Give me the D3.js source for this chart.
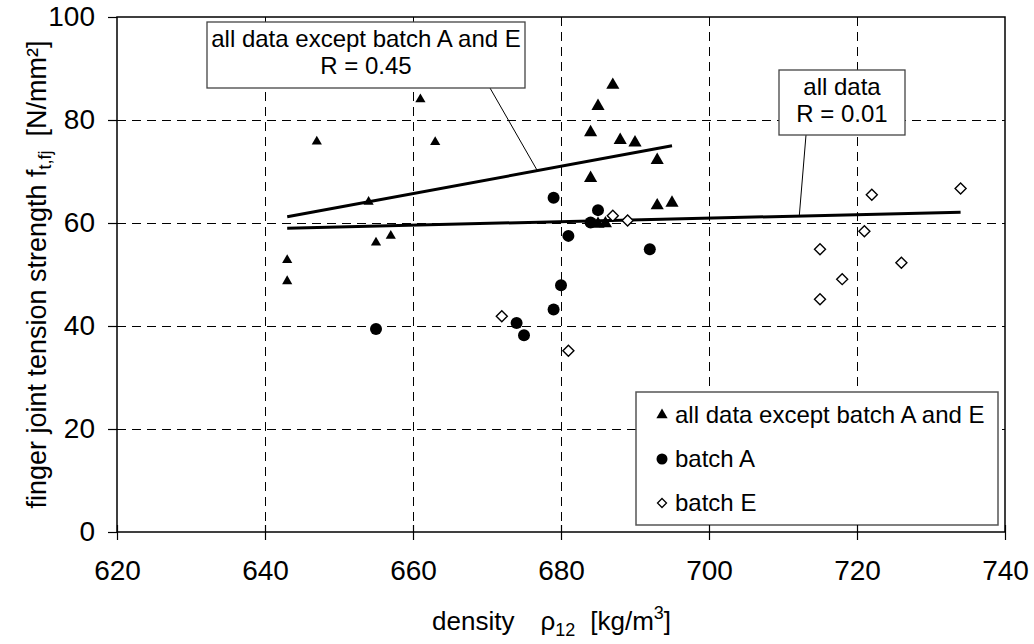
<!DOCTYPE html>
<html>
<head>
<meta charset="utf-8">
<script src="https://cdn.jsdelivr.net/npm/d3@7"></script>
<style>
  body { margin: 0; background: #fff; }
  svg text { font-family: Arial, "Liberation Sans", sans-serif; fill: #000; }
</style>
</head>
<body>
<svg id="chart" width="1034" height="644"></svg>
<script>
// density [kg/m3] vs finger joint tension strength [N/mm2]
// all data except batch A and E (smaller markers, left group)
const othersLow = [
  [643, 52.8], [643, 48.7], [647, 75.8], [654, 64.1], [655, 56.2],
  [657, 57.5], [661, 84.0], [663, 75.7]
];
// all data except batch A and E (larger markers)
const othersHigh = [
  [684, 77.6], [684, 68.7], [685, 82.7], [687, 86.8], [688, 76.1],
  [690, 75.6], [693, 72.2], [693, 63.4], [695, 63.9], [685, 59.8], [686, 59.9]
];
const batchA = [
  [655, 39.4], [674, 40.6], [675, 38.2], [679, 43.2], [680, 47.9],
  [679, 64.9], [681, 57.5], [684, 60.1], [685, 62.5], [692, 54.9]
];
const batchE = [
  [672, 41.9], [681, 35.2], [687, 61.4], [689, 60.5], [715, 54.9],
  [715, 45.2], [718, 49.1], [721, 58.4], [722, 65.5], [726, 52.3], [734, 66.7]
];
// regression lines
const trendExceptAE = [[643, 61.2], [695, 75.0]];
const trendAll = [[643, 59.0], [734, 62.1]];

const xTicks = [620, 640, 660, 680, 700, 720, 740];
const yTicks = [0, 20, 40, 60, 80, 100];

const legendItems = [
  { label: 'all data except batch A and E', shape: 'triangle' },
  { label: 'batch A', shape: 'circle' },
  { label: 'batch E', shape: 'diamond' }
];

const svg = d3.select('#chart');
const plot = { left: 117, right: 1005, top: 17, bottom: 532 };

const x = d3.scaleLinear().domain([620, 740]).range([plot.left, plot.right]);
const y = d3.scaleLinear().domain([0, 100]).range([plot.bottom, plot.top]);

/* ---------- grid ---------- */
const grid = svg.append('g');
grid.selectAll('line.gx')
  .data(xTicks.slice(1, -1))
  .enter().append('line')
  .attr('x1', d => Math.round(x(d)) + 0.5).attr('x2', d => Math.round(x(d)) + 0.5)
  .attr('y1', plot.top).attr('y2', plot.bottom)
  .attr('stroke', '#000').attr('stroke-dasharray', '9,6');
grid.selectAll('line.gy')
  .data(yTicks.slice(1, -1))
  .enter().append('line')
  .attr('x1', plot.left).attr('x2', plot.right)
  .attr('y1', d => Math.round(y(d)) + 0.5).attr('y2', d => Math.round(y(d)) + 0.5)
  .attr('stroke', '#000').attr('stroke-dasharray', '9,6');

/* ---------- regression lines ---------- */
const line = d3.line().x(d => x(d[0])).y(d => y(d[1]));
[trendExceptAE, trendAll].forEach(t => {
  svg.append('path').attr('d', line(t))
    .attr('fill', 'none').attr('stroke', '#000').attr('stroke-width', 3);
});

// value on a trend line at density v
function onTrend(t, v) {
  const [a, b] = t;
  return a[1] + (v - a[0]) * (b[1] - a[1]) / (b[0] - a[0]);
}

/* ---------- annotation boxes ---------- */
function annotation(box, lines, target, trend, from) {
  const tx = target, ty = onTrend(trend, target);
  svg.append('line')
    .attr('x1', from[0]).attr('y1', from[1])
    .attr('x2', x(tx)).attr('y2', y(ty))
    .attr('stroke', '#000').attr('stroke-width', 1);
  svg.append('rect')
    .attr('x', box.x).attr('y', box.y).attr('width', box.w).attr('height', box.h)
    .attr('fill', '#fff').attr('stroke', '#444').attr('stroke-width', 1.3);
  lines.forEach((s, i) => {
    svg.append('text')
      .attr('x', box.x + box.w / 2).attr('y', box.y + 25 + i * 27)
      .attr('text-anchor', 'middle').attr('font-size', 24)
      .text(s);
  });
}
annotation({ x: 207, y: 22, w: 318, h: 66 },
  ['all data except batch A and E', 'R = 0.45'], 676.8, trendExceptAE, [490, 88]);
annotation({ x: 779, y: 70, w: 126, h: 65 },
  ['all data', 'R = 0.01'], 712.2, trendAll, [806, 135]);

/* ---------- markers ---------- */
const tri = d3.symbol().type(d3.symbolTriangle);
svg.append('g').selectAll('path')
  .data(othersLow).enter().append('path')
  .attr('d', tri.size(45)())
  .attr('transform', d => `translate(${x(d[0])},${y(d[1])})`)
  .attr('fill', '#000');
svg.append('g').selectAll('path')
  .data(othersHigh).enter().append('path')
  .attr('d', tri.size(75)())
  .attr('transform', d => `translate(${x(d[0])},${y(d[1])})`)
  .attr('fill', '#000');
svg.append('g').selectAll('circle')
  .data(batchA).enter().append('circle')
  .attr('cx', d => x(d[0])).attr('cy', d => y(d[1])).attr('r', 6)
  .attr('fill', '#000');
svg.append('g').selectAll('path')
  .data(batchE).enter().append('path')
  .attr('d', 'M0,-5.5L5.5,0L0,5.5L-5.5,0Z')
  .attr('transform', d => `translate(${x(d[0])},${y(d[1])})`)
  .attr('fill', '#fff').attr('stroke', '#000').attr('stroke-width', 1.4);

/* ---------- legend ---------- */
const lg = svg.append('g');
lg.append('rect')
  .attr('x', 636).attr('y', 392).attr('width', 362).attr('height', 133)
  .attr('fill', '#fff').attr('stroke', '#555').attr('stroke-width', 1.5);
legendItems.forEach((item, i) => {
  const cy = 415 + i * 44;
  const g = lg.append('g').attr('transform', `translate(662,${cy})`);
  if (item.shape === 'triangle') {
    g.append('path').attr('d', d3.symbol().type(d3.symbolTriangle).size(55)()).attr('fill', '#000');
  } else if (item.shape === 'circle') {
    g.append('circle').attr('r', 5.5).attr('fill', '#000');
  } else {
    g.append('path').attr('d', 'M0,-4.5L4.5,0L0,4.5L-4.5,0Z')
      .attr('fill', '#fff').attr('stroke', '#000').attr('stroke-width', 1.3);
  }
  lg.append('text').attr('x', 675).attr('y', cy + 8)
    .attr('font-size', 24).text(item.label);
});

/* ---------- axes and frame ---------- */
svg.append('rect')
  .attr('x', plot.left).attr('y', plot.top)
  .attr('width', plot.right - plot.left).attr('height', plot.bottom - plot.top)
  .attr('fill', 'none').attr('stroke', '#000').attr('stroke-width', 1.5);

const xAxis = svg.append('g').attr('transform', `translate(0,${plot.bottom})`)
  .call(d3.axisBottom(x).tickValues(xTicks).tickSize(8).tickPadding(20));
xAxis.select('.domain').remove();
xAxis.selectAll('.tick line').attr('y1', -7).attr('stroke-width', 1.2);
xAxis.selectAll('.tick text').attr('font-size', 28).attr('font-family', 'Arial, "Liberation Sans", sans-serif');

const yAxis = svg.append('g').attr('transform', `translate(${plot.left},0)`)
  .call(d3.axisLeft(y).tickValues(yTicks).tickSize(9).tickPadding(13));
yAxis.select('.domain').remove();
yAxis.selectAll('.tick line').attr('stroke-width', 1.2);
yAxis.selectAll('.tick text').attr('font-size', 28).attr('font-family', 'Arial, "Liberation Sans", sans-serif');

/* ---------- axis titles ---------- */
const xt = svg.append('text')
  .attr('x', 432).attr('y', 630)
  .attr('text-anchor', 'start').attr('font-size', 26);
xt.append('tspan').text('density');
xt.append('tspan').attr('dx', 26).text('\u03c1');
xt.append('tspan').attr('font-size', 18).attr('dy', 6).text('12');
xt.append('tspan').attr('dy', -6).attr('dx', 15).text('[kg/m');
xt.append('tspan').attr('font-size', 18).attr('dy', -11).text('3');
xt.append('tspan').attr('dy', 11).text(']');

const yt = svg.append('text')
  .attr('transform', `translate(46,${(plot.top + plot.bottom) / 2}) rotate(-90)`)
  .attr('text-anchor', 'middle').attr('font-size', 27);
yt.append('tspan').text('finger joint tension strength f');
yt.append('tspan').attr('font-size', 18).attr('dy', 5).text('t,fj');
yt.append('tspan').attr('dy', -5).attr('dx', 14).text('[N/mm\u00b2]');
</script>
</body>
</html>
